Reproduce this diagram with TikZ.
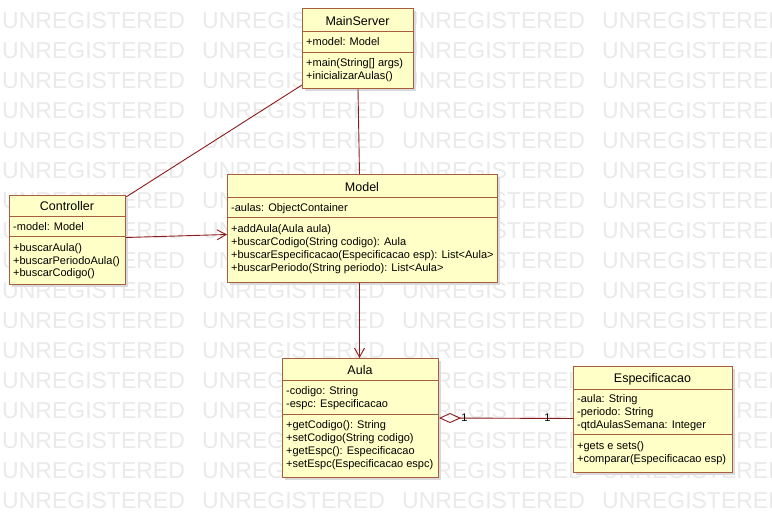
\documentclass[tikz,border=0pt]{standalone}
\usepackage{fontspec}
\setmainfont{Liberation Sans}
\usetikzlibrary{arrows.meta}

\definecolor{classfill}{RGB}{255,255,200}
\definecolor{classline}{RGB}{168,92,64}
\definecolor{linkline}{RGB}{140,28,28}
\definecolor{wmark}{RGB}{234,234,234}
\definecolor{shade}{RGB}{218,218,218}

\tikzset{
  classbox/.style={draw=classline, fill=classfill, line width=1pt, anchor=north west, inner sep=0pt},
  classshadow/.style={fill=shade, draw=none, anchor=north west, inner sep=0pt},
  title/.style={font=\fontsize{12.5}{14}\selectfont, anchor=base, inner sep=0pt},
  member/.style={font=\fontsize{11}{13}\selectfont, anchor=base west, inner sep=0pt},
  sepline/.style={draw=classline, line width=1pt},
  link/.style={draw=linkline, line width=0.9pt},
  navig/.style={link, -{Straight Barb[length=9pt,width=10pt]}},
  aggr/.style={link, {Diamond[open,length=22pt,width=10pt]}-},
  mult/.style={font=\fontsize{11}{13}\selectfont, inner sep=0pt, anchor=base},
  watermark/.style={font=\fontsize{23}{23}\selectfont, text=wmark, anchor=base west, inner sep=0pt}
}

% class frame with its drop shadow: name, left, top, width, height
\newcommand\umlclass[5]{%
  \node[classshadow, minimum width=#4pt, minimum height=#5pt] (#1-shadow) at (#2+3,#3+3) {};
  \node[classbox, minimum width=#4pt, minimum height=#5pt] (#1) at (#2,#3) {};
}
% compartment divider at a distance below the top edge of a class
\newcommand\umlsep[2]{%
  \draw[sepline] ([yshift=-#2pt]#1.north west) -- ([yshift=-#2pt]#1.north east);
}

\begin{document}
\begin{tikzpicture}[x=1pt, y=-1pt]
  \useasboundingbox (0,0) rectangle (772,518);
  \fill[white] (0,0) rectangle (772,518);

  % tiled evaluation stamp in the background
  \begin{scope}
    \clip (0,0) rectangle (772,518);
    \foreach \r in {0,...,16}
      \foreach \c in {0,...,3}
        \node[watermark] (wm-\r-\c) at (2+200*\c, 29+30*\r) {UNREGISTERED};
  \end{scope}

  % MainServer
  \umlclass{main}{302}{8}{111}{80}
  \node[title] (main-t) at (357.5,25.5) {MainServer};
  \umlsep{main}{24}
  \node[member] (main-a1) at (306,46) {+model: Model};
  \umlsep{main}{45}
  \node[member] (main-m1) at (306,67) {+main(String[] args)};
  \node[member] (main-m2) at (306,80) {+inicializarAulas()};

  % Controller
  \umlclass{ctrl}{9}{195}{116}{89}
  \node[title] (ctrl-t) at (67,210.5) {Controller};
  \umlsep{ctrl}{22}
  \node[member] (ctrl-a1) at (13,231) {-model: Model};
  \umlsep{ctrl}{42}
  \node[member] (ctrl-m1) at (13,252) {+buscarAula()};
  \node[member] (ctrl-m2) at (13,264.5) {+buscarPeriodoAula()};
  \node[member] (ctrl-m3) at (13,277) {+buscarCodigo()};

  % Model
  \umlclass{model}{227}{174}{270}{108}
  \node[title] (model-t) at (362,191.5) {Model};
  \umlsep{model}{24}
  \node[member] (model-a1) at (231,212) {-aulas: ObjectContainer};
  \umlsep{model}{44}
  \node[member] (model-m1) at (231,233) {+addAula(Aula aula)};
  \node[member] (model-m2) at (231,246) {+buscarCodigo(String codigo): Aula};
  \node[member] (model-m3) at (231,259) {+buscarEspecificacao(Especificacao esp): List<Aula>};
  \node[member] (model-m4) at (231,272) {+buscarPeriodo(String periodo): List<Aula>};

  % Aula
  \umlclass{aula}{282}{358}{156}{119}
  \node[title] (aula-t) at (360,374.5) {Aula};
  \umlsep{aula}{23}
  \node[member] (aula-a1) at (286,395) {-codigo: String};
  \node[member] (aula-a2) at (286,408) {-espc: Especificacao};
  \umlsep{aula}{57}
  \node[member] (aula-m1) at (286,429) {+getCodigo(): String};
  \node[member] (aula-m2) at (286,442) {+setCodigo(String codigo)};
  \node[member] (aula-m3) at (286,455) {+getEspc(): Especificacao};
  \node[member] (aula-m4) at (286,468) {+setEspc(Especificacao espc)};

  % Especificacao
  \umlclass{espec}{573}{366}{159}{106}
  \node[title] (espec-t) at (652.5,383) {Especificacao};
  \umlsep{espec}{24}
  \node[member] (espec-a1) at (577,403) {-aula: String};
  \node[member] (espec-a2) at (577,416) {-periodo: String};
  \node[member] (espec-a3) at (577,429) {-qtdAulasSemana: Integer};
  \umlsep{espec}{69}
  \node[member] (espec-m1) at (577,450) {+gets e sets()};
  \node[member] (espec-m2) at (577,463) {+comparar(Especificacao esp)};

  % associations
  \draw[link] ([yshift=4pt]main.south west) -- ([yshift=-2pt]ctrl.north east);
  \draw[link] (main.south) -- ([xshift=-3pt]model.north);
  \draw[navig] ([yshift=2.5pt]ctrl.east) -- ([yshift=-6pt]model.west);
  \draw[navig] ([xshift=-3pt]model.south) -- ([xshift=-1pt]aula.north);
  \draw[aggr] (aula.east) -- ([yshift=1pt]espec.west)
    node[mult, pos=0.19] (mult-a) {\raisebox{-3.5pt}{1}}
    node[mult, pos=0.81] (mult-e) {\raisebox{-3.5pt}{1}};
\end{tikzpicture}
\end{document}
